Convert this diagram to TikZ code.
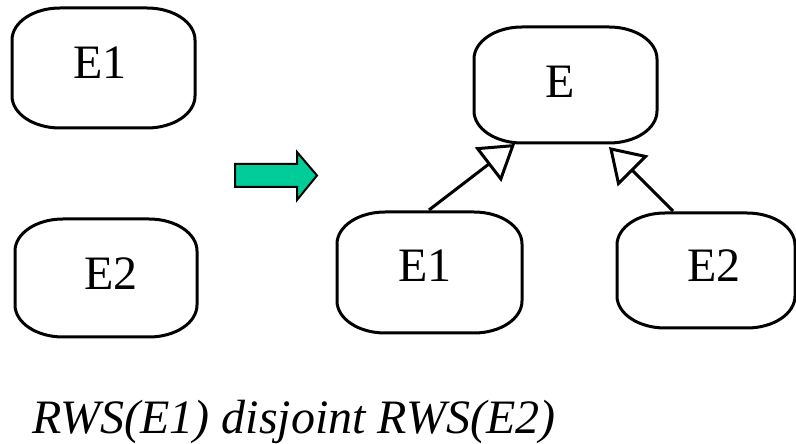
\documentclass[tikz,border=0pt]{standalone}
\usepackage{fontspec}
\setmainfont{Liberation Serif}
\usetikzlibrary{arrows.meta}
\definecolor{arrowgreen}{HTML}{00CC99}
\newcommand\entbox[1]{%
  \draw[entline] ([xshift=48pt]#1.north west) -- ([xshift=-48pt]#1.north east)
    arc[start angle=90,end angle=0,x radius=48pt,y radius=32pt]
    -- ([yshift=32pt]#1.south east)
    arc[start angle=0,end angle=-90,x radius=48pt,y radius=32pt]
    -- ([xshift=48pt]#1.south west)
    arc[start angle=270,end angle=180,x radius=48pt,y radius=32pt]
    -- ([yshift=-32pt]#1.north west)
    arc[start angle=180,end angle=90,x radius=48pt,y radius=32pt] -- cycle;}
\begin{document}
\begin{tikzpicture}[x=1pt,y=1pt,
  boxnode/.style={inner sep=0pt, outer sep=0pt, draw=none},
  entline/.style={line width=3pt, line join=round},
  lab/.style={inner sep=0pt, anchor=base, font=\fontsize{48}{50}\selectfont},
  isa/.style={line width=3pt, -{Triangle[open, length=34pt, width=43pt, line width=3pt]}},
  bigarrow/.style={fill=arrowgreen, draw=black, line width=2pt, line join=miter}]
\useasboundingbox (0,0) rectangle (796,444);
% boxes
\node[boxnode, minimum width=183pt, minimum height=120pt] (e1l) at (103.5,376) {};
\node[boxnode, minimum width=182pt, minimum height=118pt] (e2l) at (106,166) {};
\node[boxnode, minimum width=183pt, minimum height=116pt] (e) at (565.5,359) {};
\node[boxnode, minimum width=185pt, minimum height=121pt] (e1r) at (429.5,171.5) {};
\node[boxnode, minimum width=178pt, minimum height=115pt] (e2r) at (706,173.5) {};
\entbox{e1l}
\entbox{e2l}
\entbox{e}
\entbox{e1r}
\entbox{e2r}
% labels
\node[lab] (e1lt) at (100,365) {E1};
\node[lab] (e2lt) at (111,154) {E2};
\node[lab] (et) at (560,346) {E};
\node[lab] (e1rt) at (425,162) {E1};
\node[lab] (e2rt) at (714,162) {E2};
% isa arrows
\draw[isa] ([xshift=-0.5pt,yshift=2pt]e1r.north) -- ([xshift=-50.5pt,yshift=-1pt]e.south);
\draw[isa] ([xshift=-33pt,yshift=2pt]e2r.north) -- ([xshift=43.5pt,yshift=-4pt]e.south);
% green transformation arrow
\draw[bigarrow] (235,257) -- (235,280) -- (297,280) -- (297,292) -- (317,268.5) -- (297,244) -- (297,257) -- cycle;
% caption
\node[inner sep=0pt, anchor=base west, font=\fontsize{48}{50}\selectfont\itshape] (cap) at (32,10) {RWS(E1) disjoint RWS(E2)};
\end{tikzpicture}
\end{document}
